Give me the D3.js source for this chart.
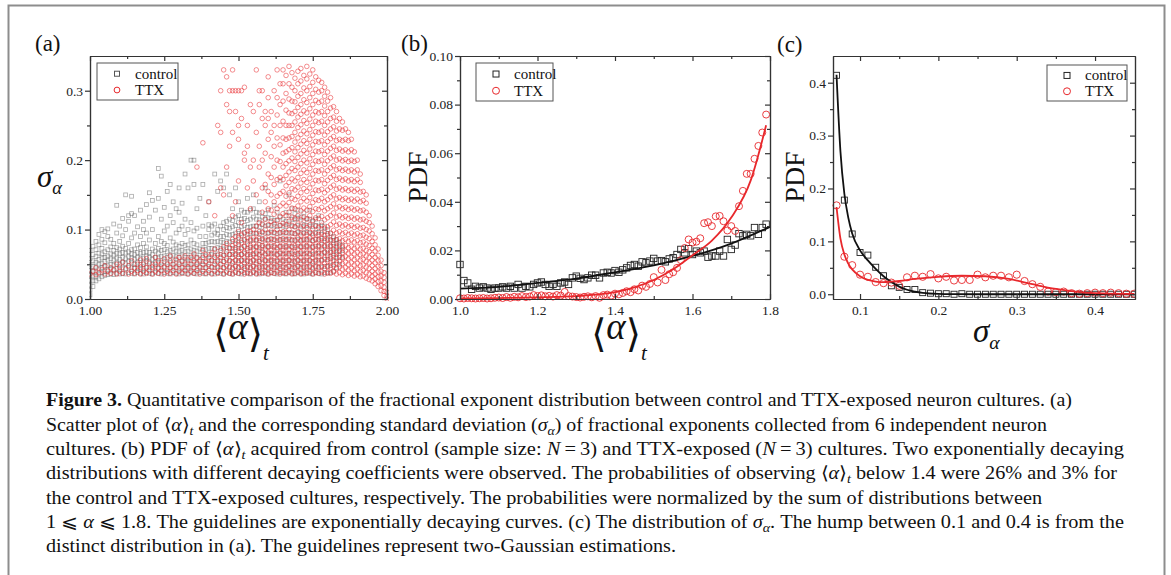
<!DOCTYPE html>
<html><head><meta charset="utf-8">
<script src="https://cdn.jsdelivr.net/npm/d3@7/dist/d3.min.js"></script>
<style>
html,body{margin:0;padding:0;background:#fff;}
svg{display:block;}
</style></head>
<body>
<svg id="fig" width="1171" height="575"></svg>
<script>
// ================= DATA =================
// Panel (a): scatter, columns of [<alpha>_t, [sigma_alpha values]]
const aControlCols = [
[1.00,[.006,.013,.02,.027,.034,.041,.049,.058,.07]],
[1.01,[.018,.026,.033,.04,.047,.055,.064,.076]],
[1.02,[.026,.032,.039,.046,.053,.061,.071,.083]],
[1.03,[.029,.036,.043,.05,.057,.066,.078,.093]],
[1.04,[.032,.038,.045,.051,.059,.065,.073,.086,.1]],
[1.05,[.034,.04,.047,.054,.06,.068,.081,.097]],
[1.06,[.035,.042,.048,.056,.062,.071,.09,.101]],
[1.07,[.036,.043,.05,.058,.065,.075,.086]],
[1.08,[.035,.042,.049,.056,.063,.07,.08,.108]],
[1.09,[.037,.044,.052,.059,.066,.074,.095,.135]],
[1.10,[.036,.043,.05,.057,.065,.072,.083,.105]],
[1.11,[.037,.045,.053,.06,.067,.076,.091,.116]],
[1.12,[.036,.044,.051,.058,.066,.073,.1,.15]],
[1.13,[.038,.046,.054,.061,.068,.08,.112,.12]],
[1.14,[.037,.045,.052,.059,.065,.071,.088,.123,.148]],
[1.15,[.036,.044,.05,.057,.064,.072,.095,.12]],
[1.16,[.038,.045,.053,.06,.067,.078,.104]],
[1.17,[.037,.043,.05,.058,.066,.074,.09,.128]],
[1.18,[.036,.044,.052,.059,.067,.08,.1,.112]],
[1.19,[.038,.046,.054,.061,.068,.075,.095,.136]],
[1.20,[.037,.045,.053,.06,.067,.085,.118,.153]],
[1.21,[.036,.043,.05,.057,.064,.072,.1,.142]],
[1.22,[.038,.046,.053,.06,.069,.08,.128]],
[1.23,[.037,.044,.052,.059,.066,.073,.09,.145,.188]],
[1.24,[.036,.045,.053,.061,.07,.083,.115,.177]],
[1.25,[.038,.046,.054,.062,.071,.08,.098,.132]],
[1.26,[.037,.044,.052,.06,.068,.077,.105,.155]],
[1.27,[.036,.045,.053,.062,.07,.088,.12,.165]],
[1.28,[.038,.046,.055,.063,.072,.082,.11,.14]],
[1.29,[.037,.045,.053,.061,.069,.078,.095,.13]],
[1.30,[.036,.044,.052,.06,.068,.076,.1,.125,.16]],
[1.31,[.038,.046,.054,.062,.07,.08,.105,.138]],
[1.32,[.037,.045,.053,.06,.068,.077,.093,.115,.18]],
[1.33,[.036,.044,.052,.06,.069,.078,.1,.16]],
[1.34,[.038,.046,.055,.063,.072,.085,.11,.2]],
[1.35,[.037,.045,.053,.062,.07,.08,.098,.165,.2]],
[1.36,[.036,.044,.052,.06,.069,.078,.102,.13]],
[1.37,[.038,.046,.054,.063,.072,.09,.145]],
[1.38,[.037,.045,.054,.063,.072,.08,.105,.165]],
[1.39,[.036,.045,.053,.062,.071,.08,.09,.12]],
[1.40,[.038,.047,.056,.064,.073,.082,.1,.107,.14]],
[1.41,[.037,.046,.055,.064,.073,.083,.092,.105]],
[1.42,[.036,.045,.054,.063,.072,.082,.095,.108,.18]],
[1.43,[.038,.047,.056,.065,.074,.083,.093,.1,.155]],
[1.44,[.037,.046,.055,.064,.073,.082,.09,.105,.17]],
[1.45,[.036,.045,.054,.063,.072,.081,.09,.1,.11,.16]],
[1.46,[.038,.047,.056,.065,.074,.083,.093,.103,.112,.18]],
[1.47,[.037,.046,.055,.064,.073,.082,.092,.102,.115,.15]],
[1.48,[.036,.045,.054,.064,.073,.083,.093,.104,.113,.13]],
[1.49,[.038,.047,.056,.065,.074,.084,.095,.106,.118,.16]],
[1.50,[.037,.046,.055,.064,.073,.082,.091,.1,.11,.12,.14]],
[1.51,[.036,.045,.055,.064,.074,.084,.094,.104,.115,.128]],
[1.52,[.038,.047,.056,.066,.076,.086,.096,.106,.116,.125]],
[1.53,[.037,.046,.055,.064,.073,.083,.093,.103,.113,.125,.145]],
[1.54,[.036,.045,.054,.064,.074,.084,.094,.104,.115,.128]],
[1.55,[.038,.047,.056,.065,.075,.085,.095,.105,.118,.13,.15]],
[1.56,[.037,.046,.055,.065,.075,.085,.095,.105,.115,.125]],
[1.57,[.036,.045,.054,.064,.074,.084,.094,.104,.114,.124,.14]],
[1.58,[.038,.047,.057,.067,.077,.087,.097,.107,.118]],
[1.59,[.037,.046,.055,.065,.075,.085,.095,.105,.115,.123,.16]],
[1.60,[.036,.045,.055,.065,.075,.085,.095,.106,.117,.128]],
[1.61,[.038,.047,.056,.066,.076,.086,.096,.106,.116]],
[1.62,[.037,.046,.055,.065,.075,.085,.095,.105,.113,.135]],
[1.63,[.036,.045,.054,.064,.074,.084,.094,.104,.114,.125]],
[1.64,[.038,.047,.056,.066,.076,.086,.096,.106,.118,.17]],
[1.65,[.037,.046,.055,.065,.075,.085,.095,.105,.115]],
[1.66,[.036,.045,.055,.065,.075,.085,.095,.104,.112,.125]],
[1.67,[.038,.047,.056,.066,.076,.086,.096,.108,.12,.15]],
[1.68,[.037,.046,.055,.065,.075,.085,.095,.105,.115,.13]],
[1.69,[.036,.045,.054,.064,.074,.084,.094,.104,.114,.123]],
[1.70,[.038,.047,.056,.066,.076,.086,.096,.106,.116,.128]],
[1.71,[.037,.046,.055,.065,.075,.085,.095,.105,.118]],
[1.72,[.036,.045,.055,.065,.075,.085,.095,.104,.113,.124]],
[1.73,[.038,.047,.056,.066,.076,.086,.096,.106,.116]],
[1.74,[.037,.046,.055,.065,.075,.085,.095,.105,.115,.128]],
[1.75,[.036,.045,.054,.064,.074,.084,.094,.104,.112]],
[1.76,[.038,.047,.056,.066,.076,.086,.096,.106,.115]],
[1.77,[.037,.046,.056,.066,.076,.086,.096,.105,.12]],
[1.78,[.036,.046,.056,.066,.075,.084,.093,.102,.11]],
[1.79,[.038,.047,.057,.067,.077,.087,.097,.105]],
[1.80,[.037,.047,.057,.066,.075,.084,.092,.1]],
[1.81,[.038,.048,.058,.067,.076,.085,.094]],
[1.82,[.04,.05,.06,.068,.076,.084,.09]],
[1.83,[.045,.055,.064,.072,.08,.086]],
[1.84,[.05,.06,.068,.075,.082]],
[1.85,[.06,.07,.077]]
];
const aTTXCols = [
[1.00,[.036]],[1.01,[.04]],[1.02,[.035,.045]],[1.03,[.038]],[1.04,[.042]],
[1.05,[.036,.048]],[1.06,[.04]],[1.07,[.037,.045]],[1.08,[.042]],[1.09,[.036,.05]],
[1.10,[.04,.046]],[1.11,[.037,.053]],[1.12,[.043]],[1.13,[.036,.048]],[1.14,[.04,.055]],
[1.15,[.037,.045]],[1.16,[.041,.05]],[1.17,[.036,.046,.056]],[1.18,[.04,.05]],[1.19,[.037,.045,.058]],
[1.20,[.041,.051]],[1.21,[.036,.046]],[1.22,[.04,.05,.06]],[1.23,[.037,.045,.055]],[1.24,[.041,.05]],
[1.25,[.036,.046,.058]],[1.26,[.04,.05]],[1.27,[.037,.045,.055,.062]],[1.28,[.041,.05]],[1.29,[.036,.046,.057]],
[1.30,[.04,.05,.06]],[1.31,[.037,.045,.055]],[1.32,[.041,.05,.062]],[1.33,[.036,.046,.056]],[1.34,[.04,.05,.06]],
[1.35,[.037,.045,.055,.065]],[1.36,[.041,.05,.059]],[1.37,[.036,.046,.056]],[1.38,[.04,.05,.06,.07]],[1.39,[.037,.045,.054,.064]],
[1.40,[.041,.05,.06]],[1.41,[.036,.046,.056,.066]],[1.42,[.04,.05,.06,.072]],[1.43,[.037,.045,.054,.063]],[1.44,[.041,.05,.06,.07]],
[1.45,[.036,.045,.054,.063,.075]],[1.46,[.04,.049,.058,.068,.08]],[1.47,[.037,.046,.055,.064,.074]],
[1.48,[.036,.044,.052,.06,.068,.077,.086]],
[1.49,[.039,.047,.055,.063,.071,.08,.09]],
[1.50,[.037,.045,.053,.061,.069,.078,.088,.097]],
[1.51,[.04,.048,.056,.064,.072,.081,.092]],
[1.52,[.036,.044,.052,.06,.068,.076,.085,.095]],
[1.53,[.038,.046,.054,.062,.07,.079,.088,.098]],
[1.54,[.037,.045,.053,.061,.069,.077,.086,.097]],
[1.55,[.039,.047,.055,.063,.071,.079,.088,.1]],
[1.56,[.036,.044,.052,.06,.068,.076,.085,.094,.105]],
[1.57,[.038,.046,.054,.062,.07,.078,.087,.097,.11]],
[1.58,[.037,.045,.053,.061,.069,.077,.086,.096,.108,.125]],
[1.59,[.039,.047,.055,.063,.071,.079,.088,.1,.115,.14,.165]],
[1.60,[.036,.044,.052,.06,.068,.076,.085,.095,.107,.13,.155,.18]],
[1.61,[.038,.046,.054,.062,.07,.078,.087,.098,.112,.128,.15,.175,.205]],
[1.62,[.037,.045,.053,.061,.069,.077,.086,.096,.108,.122,.14,.165,.19,.22,.25]],
[1.63,[.039,.047,.055,.063,.071,.079,.088,.1,.113,.13,.148,.172,.2,.232,.265]],
[1.64,[.036,.044,.052,.06,.068,.076,.085,.095,.106,.119,.134,.152,.175,.198,.222,.25,.28]],
[1.65,[.038,.046,.054,.062,.07,.078,.087,.097,.109,.123,.138,.155,.172,.19,.21,.232,.256,.285,.31]],
[1.66,[.037,.045,.053,.061,.069,.077,.086,.096,.107,.12,.134,.148,.163,.178,.195,.212,.23,.25,.272,.296,.322]],
[1.67,[.039,.047,.055,.063,.071,.079,.088,.1,.112,.125,.139,.153,.168,.183,.199,.215,.232,.25,.268,.288,.31]],
[1.68,[.036,.044,.052,.06,.068,.076,.085,.095,.106,.118,.131,.145,.159,.173,.188,.203,.218,.234,.25,.267,.285,.305,.326]],
[1.69,[.037,.045,.053,.061,.069,.077,.085,.094,.104,.116,.13,.143,.157,.17,.185,.198,.212,.226,.24,.255,.27,.284,.3,.318]],
[1.70,[.039,.047,.055,.063,.071,.079,.088,.097,.108,.12,.134,.148,.161,.175,.19,.204,.218,.232,.247,.262,.276,.292,.31,.328]],
[1.71,[.036,.044,.052,.06,.068,.076,.084,.092,.102,.114,.127,.14,.153,.167,.181,.195,.209,.223,.237,.251,.266,.28,.296,.314,.332]],
[1.72,[.038,.046,.054,.062,.07,.078,.086,.095,.106,.118,.131,.145,.159,.172,.186,.2,.214,.228,.242,.257,.271,.287,.304,.322]],
[1.73,[.037,.045,.053,.061,.069,.077,.085,.093,.103,.115,.128,.141,.155,.168,.182,.196,.21,.224,.238,.253,.268,.283,.3,.317,.335]],
[1.74,[.039,.047,.055,.063,.071,.079,.088,.096,.107,.12,.133,.146,.16,.174,.188,.202,.216,.23,.244,.259,.274,.29,.306,.324]],
[1.75,[.036,.044,.052,.06,.068,.076,.084,.092,.101,.113,.126,.139,.152,.166,.18,.194,.208,.222,.236,.25,.265,.28,.296,.312,.33]],
[1.76,[.038,.046,.054,.062,.07,.078,.086,.094,.105,.117,.13,.143,.157,.171,.185,.199,.213,.227,.241,.256,.27,.286,.302,.32]],
[1.77,[.037,.045,.053,.061,.069,.077,.085,.093,.103,.116,.129,.142,.156,.17,.184,.198,.212,.226,.24,.254,.268,.283,.298,.315]],
[1.78,[.039,.047,.055,.063,.071,.079,.087,.095,.106,.119,.132,.145,.158,.172,.186,.2,.214,.228,.242,.256,.27,.285,.3,.312]],
[1.79,[.036,.044,.052,.06,.068,.076,.084,.092,.102,.114,.127,.14,.153,.166,.18,.194,.208,.222,.236,.25,.264,.278,.292,.305]],
[1.80,[.038,.046,.054,.062,.07,.078,.086,.094,.104,.117,.13,.143,.157,.171,.185,.199,.213,.227,.241,.255,.27,.285,.298]],
[1.81,[.037,.045,.053,.061,.069,.077,.085,.095,.107,.12,.133,.147,.161,.175,.189,.203,.217,.231,.245,.26,.275,.29]],
[1.82,[.039,.047,.055,.063,.071,.079,.088,.099,.111,.124,.137,.15,.164,.178,.192,.206,.22,.234,.248,.262,.277]],
[1.83,[.036,.044,.052,.06,.068,.076,.085,.095,.106,.118,.131,.144,.158,.172,.186,.2,.214,.228,.242,.256,.27]],
[1.84,[.038,.046,.054,.062,.07,.078,.087,.097,.108,.12,.133,.146,.16,.174,.188,.202,.216,.23,.245,.26]],
[1.85,[.035,.043,.051,.059,.067,.075,.084,.094,.105,.117,.13,.143,.157,.171,.185,.199,.213,.228,.243,.255]],
[1.86,[.037,.045,.053,.061,.069,.077,.086,.096,.107,.119,.132,.145,.159,.173,.187,.201,.215,.23,.245]],
[1.87,[.034,.042,.05,.058,.066,.074,.083,.093,.104,.116,.129,.142,.156,.17,.184,.198,.212,.228,.24]],
[1.88,[.036,.044,.052,.06,.068,.076,.085,.095,.106,.118,.131,.144,.158,.172,.186,.2,.215,.23]],
[1.89,[.033,.041,.049,.057,.065,.073,.082,.092,.103,.115,.128,.141,.155,.169,.183,.198,.212]],
[1.90,[.035,.043,.051,.059,.067,.075,.084,.094,.105,.117,.13,.144,.158,.172,.186,.2]],
[1.91,[.032,.04,.048,.056,.064,.072,.081,.091,.102,.114,.127,.14,.154,.168,.18]],
[1.92,[.033,.041,.049,.057,.065,.073,.082,.092,.103,.115,.128,.142,.155]],
[1.93,[.03,.038,.046,.054,.062,.07,.079,.089,.1,.112,.125,.138,.15]],
[1.94,[.028,.036,.044,.052,.06,.068,.077,.087,.098,.11,.12]],
[1.95,[.026,.033,.04,.048,.056,.064,.073,.083,.094,.105]],
[1.96,[.022,.029,.036,.044,.052,.06,.069,.078,.088]],
[1.97,[.018,.025,.032,.039,.047,.055,.063,.072]],
[1.98,[.012,.019,.026,.033,.04,.048,.056]],
[1.99,[.005,.011,.017,.024,.031,.038]],
[2.00,[0,.004,.01]]
];
const aTTXSparse = [
[1.36,.19],[1.38,.225],[1.40,.14],[1.42,.12],[1.43,.25],[1.44,.3],[1.44,.24],[1.44,.16],
[1.45,.33],[1.45,.15],[1.46,.32],[1.46,.28],[1.46,.19],[1.47,.3],[1.47,.27],[1.47,.22],
[1.48,.3],[1.48,.33],[1.48,.24],[1.48,.12],[1.49,.3],[1.49,.27],[1.49,.14],[1.50,.3],
[1.50,.25],[1.50,.23],[1.50,.17],[1.51,.26],[1.51,.3],[1.51,.11],[1.52,.305],[1.52,.2],
[1.52,.21],[1.53,.25],[1.53,.22],[1.53,.16],[1.54,.28],[1.54,.19],[1.54,.13],[1.55,.27],
[1.55,.2],[1.55,.17],[1.56,.33],[1.56,.24],[1.56,.15],[1.57,.28],[1.57,.3],[1.57,.22],
[1.57,.19],[1.58,.3],[1.58,.26],[1.58,.2],[1.58,.16],[1.59,.25],[1.59,.27],[1.59,.21],
[1.60,.29],[1.60,.26],[1.60,.23],[1.60,.32],[1.61,.24],[1.61,.27],[1.62,.3],[1.63,.33],
[1.63,.29],[1.64,.31],[1.65,.33],[1.67,.335]
];
const aXTicks = [1.00,1.25,1.50,1.75,2.00];
const aXTickLabels = ["1.00","1.25","1.50","1.75","2.00"];
const aXMinor = [1.125,1.375,1.625,1.875];
const aYTicks = [0,0.1,0.2,0.3];
const aYTickLabels = ["0.0","0.1","0.2","0.3"];
const aYMinor = [0.05,0.15,0.25];

// Panel (b): PDF of <alpha>_t
const bAlpha = [1.00,1.01,1.02,1.03,1.04,1.05,1.06,1.07,1.08,1.09,1.10,1.11,1.12,1.13,1.14,1.15,1.16,1.17,1.18,1.19,
1.20,1.21,1.22,1.23,1.24,1.25,1.26,1.27,1.28,1.29,1.30,1.31,1.32,1.33,1.34,1.35,1.36,1.37,1.38,1.39,
1.40,1.41,1.42,1.43,1.44,1.45,1.46,1.47,1.48,1.49,1.50,1.51,1.52,1.53,1.54,1.55,1.56,1.57,1.58,1.59,
1.60,1.61,1.62,1.63,1.64,1.65,1.66,1.67,1.68,1.69,1.70,1.71,1.72,1.73,1.74,1.75,1.76,1.77,1.78,1.79];
const bControl = [.0142,.0076,.0066,.0040,.0052,.0045,.0050,.0045,.0040,.0045,.0045,.0050,.0045,.0052,.0045,.0060,.0045,.0052,.0050,.0060,
.0066,.0070,.0060,.0052,.0060,.0052,.0066,.0070,.0060,.0087,.0094,.0085,.0080,.0087,.0098,.0098,.0087,.0107,.0110,.0107,
.0117,.0110,.0120,.0128,.0138,.0142,.0135,.0153,.0149,.0156,.0167,.0156,.0158,.0153,.0165,.0170,.0183,.0204,.0190,.0207,
.0183,.0197,.0190,.0197,.0172,.0177,.0177,.0197,.0177,.0245,.0204,.0222,.0269,.0260,.0266,.0260,.0294,.0266,.0294,.0308];
const bTTX = [.0003,.0002,.0004,.0003,.0002,.0003,.0004,.0002,.0003,.0005,.0006,.0004,.0008,.0005,.0009,.0007,.0012,.0008,.0010,.0016,
.0012,.0015,.0011,.0013,.0010,.0016,.0014,.0029,.0012,.0010,.0008,.0006,.0009,.0011,.0007,.0012,.0005,.0016,.0018,.0014,
.0022,.0019,.0025,.0032,.0028,.0040,.0035,.0055,.0050,.0062,.0090,.0068,.0120,.0078,.0102,.0110,.0128,.0160,.0210,.0245,
.0232,.0236,.0250,.0312,.0316,.0300,.0340,.0342,.0320,.0282,.0300,.0280,.0382,.0445,.0515,.0515,.0577,.0630,.0685,.0759];
const bFitControlAlpha = [1.0,1.1,1.2,1.3,1.4,1.5,1.6,1.7,1.8];
const bFitControl = [.0043,.0050,.0066,.0084,.0110,.0138,.0177,.0228,.0297];
const bFitTTXAlpha = [1.0,1.1,1.2,1.3,1.4,1.45,1.5,1.55,1.6,1.65,1.7,1.75,1.79];
const bFitTTX = [.0002,.0004,.0007,.0012,.0028,.0048,.0078,.0122,.0180,.0240,.0335,.0487,.0715];
const bXTicks = [1.0,1.2,1.4,1.6,1.8];
const bXTickLabels = ["1.0","1.2","1.4","1.6","1.8"];
const bXMinor = [1.1,1.3,1.5,1.7];
const bYTicks = [0,0.02,0.04,0.06,0.08,0.10];
const bYTickLabels = ["0.00","0.02","0.04","0.06","0.08","0.10"];
const bYMinor = [0.01,0.03,0.05,0.07,0.09];

// Panel (c): PDF of sigma_alpha
const cSigma = [0.07,0.08,0.09,0.10,0.11,0.12,0.13,0.14,0.15,0.16,0.17,0.18,0.19,0.20,0.21,0.22,0.23,0.24,0.25,0.26,
0.27,0.28,0.29,0.30,0.31,0.32,0.33,0.34,0.35,0.36,0.37,0.38,0.39,0.40,0.41,0.42,0.43,0.44,0.45];
const cControl = [.414,.178,.114,.079,.074,.051,.035,.016,.013,.009,.009,.003,.002,.001,.001,0,.001,0,0,0,
0,0,0,0,0,0,0,0,0,0,0,0,0,0,0,0,0,0,0];
const cTTX = [.168,.071,.055,.037,.033,.023,.021,.022,.016,.032,.035,.033,.038,.030,.033,.026,.027,.027,.037,.032,
.035,.035,.032,.037,.025,.019,.014,.005,.004,.005,.002,.001,.002,.003,.002,.003,.002,.001,.001];
const cFitControlSigma = [0.07,0.075,0.08,0.085,0.09,0.10,0.11,0.12,0.13,0.14,0.15,0.16,0.17,0.18,0.20,0.22,0.25,0.30,0.35,0.40,0.45];
const cFitControl = [.415,.27,.19,.145,.115,.083,.064,.048,.034,.023,.0145,.0085,.005,.0027,.0007,.0002,0,0,0,0,0];
const cFitTTXSigma = [0.07,0.075,0.08,0.085,0.09,0.10,0.11,0.12,0.13,0.14,0.15,0.17,0.20,0.23,0.26,0.29,0.32,0.35,0.38,0.41,0.45];
const cFitTTX = [.165,.105,.075,.058,.047,.034,.027,.024,.023,.024,.025,.029,.033,.035,.034,.029,.019,.010,.004,.0015,.0005];
const cXTicks = [0.1,0.2,0.3,0.4];
const cXTickLabels = ["0.1","0.2","0.3","0.4"];
const cXMinor = [0.15,0.25,0.35];
const cYTicks = [0,0.1,0.2,0.3,0.4];
const cYTickLabels = ["0.0","0.1","0.2","0.3","0.4"];
const cYMinor = [0.05,0.15,0.25,0.35];

const seriesNames = ["control","TTX"];
const panelLabels = ["(a)","(b)","(c)"];

const captionLines = [
 [["Figure 3.","b"],[" Quantitative comparison of the fractional exponent distribution between control and TTX-exposed neuron cultures. (a)",""]],
 [["Scatter plot of \u27E8",""],["\u03B1","i"],["\u27E9",""],["t","sub"],[" and the corresponding standard deviation (",""],["\u03C3","i"],["\u03B1","sub"],[") of fractional exponents collected from 6 independent neuron",""]],
 [["cultures. (b) PDF of \u27E8",""],["\u03B1","i"],["\u27E9",""],["t","sub"],[" acquired from control (sample size: ",""],["N","i"],["\u2009=\u20093) and TTX-exposed (",""],["N","i"],["\u2009=\u20093) cultures. Two exponentially decaying",""]],
 [["distributions with different decaying coefficients were observed. The probabilities of observing \u27E8",""],["\u03B1","i"],["\u27E9",""],["t","sub"],[" below 1.4 were 26% and 3% for",""]],
 [["the control and TTX-exposed cultures, respectively. The probabilities were normalized by the sum of distributions between",""]],
 [["1 \u2A7D ",""],["\u03B1","i"],[" \u2A7D 1.8. The guidelines are exponentially decaying curves. (c) The distribution of ",""],["\u03C3","i"],["\u03B1","sub"],[". The hump between 0.1 and 0.4 is from the",""]],
 [["distinct distribution in (a). The guidelines represent two-Gaussian estimations.",""]]
];
const captionWidths = [1026,1001,1078,1071,996,1078,630];

// ================= DRAWING =================
const SERIF = "'Liberation Serif','Times New Roman',Times,serif";
const svg = d3.select("#fig");
const CTRL = "#222", RED = "#e8282c";

// outer figure border
svg.append("path").attr("d","M8.5,575V5.5H1164.5V575").attr("fill","none")
  .attr("stroke","#8d8d8d").attr("stroke-width",2);

function styleAxis(g){
  g.attr("font-family",SERIF).attr("font-size",13.5).attr("color","#333");
  g.selectAll("path,line").attr("stroke-width",1.2);
  g.selectAll("text").attr("fill","#222");
}
function frame(g, x, y, xt, xl, xm, yt, yl, ym){
  const [X0,X1] = x.range(), [Y1,Y0] = y.range();
  g.append("g").attr("transform",`translate(0,${Y1})`)
    .call(d3.axisBottom(x).tickValues(xt).tickFormat((d,i)=>xl[i]).tickSize(-5).tickSizeOuter(0).tickPadding(6)).call(styleAxis);
  g.append("g").attr("transform",`translate(0,${Y1})`)
    .call(d3.axisBottom(x).tickValues(xm).tickFormat("").tickSize(-3).tickSizeOuter(0)).call(styleAxis);
  g.append("g").attr("transform",`translate(0,${Y0})`)
    .call(d3.axisTop(x).tickValues(xt).tickFormat("").tickSize(-5).tickSizeOuter(0)).call(styleAxis);
  g.append("g").attr("transform",`translate(0,${Y0})`)
    .call(d3.axisTop(x).tickValues(xm).tickFormat("").tickSize(-3).tickSizeOuter(0)).call(styleAxis);
  g.append("g").attr("transform",`translate(${X0},0)`)
    .call(d3.axisLeft(y).tickValues(yt).tickFormat((d,i)=>yl[i]).tickSize(5).tickSizeOuter(0).tickPadding(2)).call(styleAxis);
  g.append("g").attr("transform",`translate(${X0},0)`)
    .call(d3.axisLeft(y).tickValues(ym).tickFormat("").tickSize(3).tickSizeOuter(0)).call(styleAxis);
  g.append("g").attr("transform",`translate(${X1},0)`)
    .call(d3.axisRight(y).tickValues(yt).tickFormat("").tickSize(-5).tickSizeOuter(0)).call(styleAxis);
  g.append("g").attr("transform",`translate(${X1},0)`)
    .call(d3.axisRight(y).tickValues(ym).tickFormat("").tickSize(-3).tickSizeOuter(0)).call(styleAxis);
}
function legend(g, x0, y0, w, h, mk, size){
  g.append("rect").attr("x",x0).attr("y",y0).attr("width",w).attr("height",h)
    .attr("fill","#fff").attr("stroke","#555").attr("stroke-width",1);
  const rows=[y0+h*0.29, y0+h*0.73];
  const mx=x0+20, tx=x0+38;
  g.append("rect").attr("x",mx-size/2).attr("y",rows[0]-size/2).attr("width",size).attr("height",size)
    .attr("fill","none").attr("stroke",mk.cs).attr("stroke-width",1);
  g.append("circle").attr("cx",mx).attr("cy",rows[1]).attr("r",size*0.58)
    .attr("fill","none").attr("stroke",mk.rs).attr("stroke-width",1);
  seriesNames.forEach((n,i)=>g.append("text").attr("x",tx).attr("y",rows[i]+5)
    .attr("font-family",SERIF).attr("font-size",15).attr("fill","#111").text(n));
}
function panelLabel(txt,x,y){
  svg.append("text").attr("x",x).attr("y",y).attr("font-family",SERIF).attr("font-size",23)
    .attr("fill","#111").text(txt);
}
function angleAlphaLabel(cx, base){
  const t = svg.append("text").attr("x",cx).attr("y",base).attr("text-anchor","middle")
    .attr("font-family",SERIF).attr("font-size",37).attr("fill","#111");
  t.append("tspan").attr("font-family","'DejaVu Serif',serif").attr("font-size",39).attr("dy",8).text("\u27E8");
  t.append("tspan").attr("font-style","italic").attr("dy",-8).text("\u03B1");
  t.append("tspan").attr("font-family","'DejaVu Serif',serif").attr("font-size",39).attr("dy",8).text("\u27E9");
  t.append("tspan").attr("font-style","italic").attr("font-size",21).attr("dy",13).text("t");
}
function sigmaLabel(x, base, size){
  const t = svg.append("text").attr("x",x).attr("y",base)
    .attr("font-family",SERIF).attr("font-size",size).attr("fill","#111");
  t.append("tspan").attr("font-style","italic").text("\u03C3");
  t.append("tspan").attr("font-style","italic").attr("font-size",size*0.6).attr("dy",size*0.22).text("\u03B1");
}
function pdfLabel(x, cy){
  svg.append("text").attr("transform",`translate(${x},${cy}) rotate(-90)`).attr("text-anchor","middle")
    .attr("font-family",SERIF).attr("font-size",28).attr("fill","#111").text("PDF");
}

// ---------- Panel (a) ----------
{
  const x = d3.scaleLinear().domain([1,2]).range([90,387]);
  const y = d3.scaleLinear().domain([0,0.35]).range([299,56]);
  const g = svg.append("g");
  svg.append("clipPath").attr("id","clipA").append("rect").attr("x",89).attr("y",55).attr("width",300).attr("height",246);
  const pts = g.append("g").attr("clip-path","url(#clipA)");
  const ctrl = aControlCols.flatMap(([a,ys])=>ys.map(s=>[a,s]));
  const ttx = aTTXCols.flatMap(([a,ys])=>ys.map(s=>[a,s])).concat(aTTXSparse);
  pts.append("g").selectAll("rect").data(ctrl).join("rect")
    .attr("x",d=>x(d[0])-1.9).attr("y",d=>y(d[1])-1.9).attr("width",3.8).attr("height",3.8)
    .attr("fill","none").attr("stroke","#555").attr("stroke-opacity",0.5).attr("stroke-width",0.8);
  pts.append("g").selectAll("circle").data(ttx).join("circle")
    .attr("cx",d=>x(d[0])).attr("cy",d=>y(d[1])).attr("r",2.3)
    .attr("fill","none").attr("stroke",RED).attr("stroke-opacity",0.62).attr("stroke-width",0.85);
  frame(g,x,y,aXTicks,aXTickLabels,aXMinor,aYTicks,aYTickLabels,aYMinor);
  legend(g,97,63,81,37,{cs:"#555",rs:RED},5);
  panelLabel(panelLabels[0],35,51);
  sigmaLabel(37,187,31);
  angleAlphaLabel(241,339);
}

// ---------- Panel (b) ----------
{
  const x = d3.scaleLinear().domain([1.0,1.8]).range([460,770]);
  const y = d3.scaleLinear().domain([0,0.10]).range([299,56]);
  const g = svg.append("g");
  const line = d3.line().curve(d3.curveMonotoneX);
  g.append("g").selectAll("rect").data(bAlpha.map((a,i)=>[a,bControl[i]])).join("rect")
    .attr("x",d=>x(d[0])-3.2).attr("y",d=>y(d[1])-3.2).attr("width",6.4).attr("height",6.4)
    .attr("fill","none").attr("stroke",CTRL).attr("stroke-width",0.9);
  g.append("g").selectAll("circle").data(bAlpha.map((a,i)=>[a,bTTX[i]])).join("circle")
    .attr("cx",d=>x(d[0])).attr("cy",d=>y(d[1])).attr("r",3.5)
    .attr("fill","none").attr("stroke",RED).attr("stroke-width",0.9);
  g.append("path").attr("d",line(bFitControlAlpha.map((a,i)=>[x(a),y(bFitControl[i])])))
    .attr("fill","none").attr("stroke","#111").attr("stroke-width",1.8);
  g.append("path").attr("d",line(bFitTTXAlpha.map((a,i)=>[x(a),y(bFitTTX[i])])))
    .attr("fill","none").attr("stroke",RED).attr("stroke-width",1.8);
  frame(g,x,y,bXTicks,bXTickLabels,bXMinor,bYTicks,bYTickLabels,bYMinor);
  legend(g,476,63,77,38,{cs:"#222",rs:RED},6);
  panelLabel(panelLabels[1],401,51);
  pdfLabel(427,177);
  angleAlphaLabel(619,339);
}

// ---------- Panel (c) ----------
{
  const x = d3.scaleLinear().domain([0.0655,0.451]).range([833,1135]);
  const y = d3.scaleLinear().domain([-0.009,0.4505]).range([299,56]);
  const g = svg.append("g");
  svg.append("clipPath").attr("id","clipC").append("rect").attr("x",826).attr("y",50).attr("width",309).attr("height",255);
  const pts = g.append("g").attr("clip-path","url(#clipC)");
  const line = d3.line().curve(d3.curveMonotoneX);
  pts.append("g").selectAll("rect").data(cSigma.map((s,i)=>[s,cControl[i]])).join("rect")
    .attr("x",d=>x(d[0])-3).attr("y",d=>y(d[1])-3).attr("width",6).attr("height",6)
    .attr("fill","none").attr("stroke",CTRL).attr("stroke-width",0.9);
  pts.append("g").selectAll("circle").data(cSigma.map((s,i)=>[s,cTTX[i]])).join("circle")
    .attr("cx",d=>x(d[0])).attr("cy",d=>y(d[1])).attr("r",3.6)
    .attr("fill","none").attr("stroke",RED).attr("stroke-width",0.9);
  pts.append("path").attr("d",line(cFitControlSigma.map((s,i)=>[x(s),y(cFitControl[i])])))
    .attr("fill","none").attr("stroke","#111").attr("stroke-width",1.8);
  pts.append("path").attr("d",line(cFitTTXSigma.map((s,i)=>[x(s),y(cFitTTX[i])])))
    .attr("fill","none").attr("stroke",RED).attr("stroke-width",1.8);
  frame(g,x,y,cXTicks,cXTickLabels,cXMinor,cYTicks,cYTickLabels,cYMinor);
  legend(g,1047,65,80,36,{cs:"#222",rs:RED},6);
  panelLabel(panelLabels[2],777,52);
  pdfLabel(804,177);
  sigmaLabel(973,342,33);
}

// ---------- Caption ----------
{
  const baselines = [406,430.5,455,479,503.5,528,552];
  captionLines.forEach((segs,li)=>{
    const t = svg.append("text").attr("x",46).attr("y",baselines[li])
      .attr("font-family",SERIF).attr("font-size",18).attr("fill","#111")
      .attr("textLength",captionWidths[li]).attr("lengthAdjust","spacingAndGlyphs");
    let lift = 0;
    segs.forEach(([txt,st])=>{
      const s = t.append("tspan").text(txt);
      if(st==="b") s.attr("font-weight","bold");
      if(st==="i") s.attr("font-style","italic");
      if(st==="sub"){ s.attr("font-style","italic").attr("font-size",12.5).attr("dy",4); lift=4; }
      else if(lift){ s.attr("dy",-lift); lift=0; }
    });
  });
}
</script>
</body></html>
